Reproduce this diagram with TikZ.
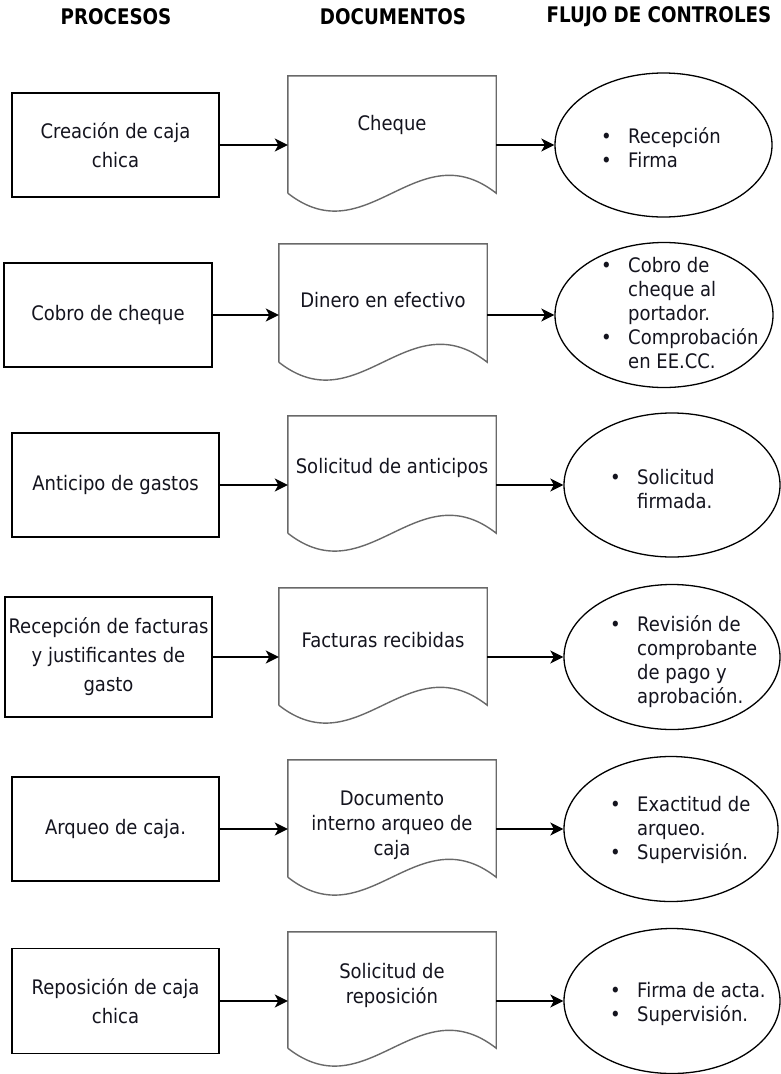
\documentclass[tikz,border=0pt]{standalone}
\usepackage{fontspec}
\usetikzlibrary{arrows.meta,shapes.geometric,calc}
\newfontfamily\bodyfont{DejaVu Sans}[FakeStretch=0.9]
\newfontfamily\headfont{DejaVu Sans}[FakeStretch=0.85]
\newcommand{\blt}{\makebox[27bp][l]{\textbullet}}
\newcommand{\hng}{\hspace*{27bp}}
\definecolor{docgray}{RGB}{105,105,105}
\definecolor{ink}{RGB}{20,20,30}

\tikzset{
  procbox/.style={draw=black, line width=1.6bp, minimum width=207bp, minimum height=104bp,
    inner sep=2bp, align=center, text=ink, font=\bodyfont\fontsize{20bp}{29bp}\selectfont},
  docarea/.style={inner sep=0pt, minimum width=208bp, minimum height=117bp},
  docline/.style={draw=docgray, line width=1.4bp},
  doctext/.style={align=center, inner sep=0pt, text=ink, font=\bodyfont\fontsize{20bp}{25bp}\selectfont},
  ctrl/.style={ellipse, draw=black, line width=1.3bp, inner sep=0pt, minimum width=216bp, minimum height=144bp},
  ctrltext/.style={align=left, anchor=west, inner sep=0pt, text=ink, font=\bodyfont\fontsize{20bp}{24bp}\selectfont},
  head/.style={inner sep=0pt, text=black, font=\headfont\bfseries\fontsize{21.5bp}{22bp}\selectfont},
  flow/.style={draw=black, line width=1.7bp, -{Stealth[length=13bp,width=13bp,inset=3.5bp]}}
}

% document symbol: straight top and sides, wavy bottom edge
\newcommand{\docshape}[1]{%
  \draw[docline] (#1.south west) -- (#1.north west) -- (#1.north east) -- (#1.south east)
    .. controls ($(#1.south west)!0.62!(#1.south east)+(0,-62)$)
       and ($(#1.south west)!0.38!(#1.south east)+(0,62)$) .. (#1.south west);}

\begin{document}
\begin{tikzpicture}[x=1bp, y=-1bp]
\fill[white] (0,0) rectangle (781,1074);
\useasboundingbox (0,0) rectangle (781,1074);

% column headings
\node[head] (h1) at (116,17) {PROCESOS};
\node[head] (h2) at (393,17) {DOCUMENTOS};
\node[head] (h3) at (659,17) {FLUJO DE CONTROLES};

% row 1
\node[procbox] (p1) at (115.5,145) {Creación de caja\\chica};
\node[docarea] (d1) at (392,134.5) {};
\docshape{d1}
\node[doctext] (dt1) at (392,125) {Cheque};
\node[ctrl, minimum width=217bp] (c1) at (663.5,145) {};
\node[ctrltext] (ct1) at (601,147.5) {\blt Recepción\\\blt Firma};
\draw[flow] (p1.east) -- (p1.east -| d1.west);
\draw[flow] (p1.east -| d1.east) -- (c1.west);

% row 2
\node[procbox, minimum width=208bp] (p2) at (108,315) {Cobro de cheque};
\node[docarea, minimum height=118bp] (d2) at (383,303) {};
\docshape{d2}
\node[doctext] (dt2) at (383,300) {Dinero en efectivo};
\node[ctrl, minimum width=218bp, minimum height=145bp] (c2) at (664,315) {};
\node[ctrltext] (ct2) at (601,313) {\blt Cobro de\\\hng cheque al\\\hng portador.\\\blt Comprobación\\\hng en EE.CC.};
\draw[flow] (p2.east) -- (p2.east -| d2.west);
\draw[flow] (p2.east -| d2.east) -- (c2.west);

% row 3
\node[procbox] (p3) at (115.5,485) {Anticipo de gastos};
\node[docarea] (d3) at (392,474.5) {};
\docshape{d3}
\node[doctext] (dt3) at (392,468) {Solicitud de anticipos};
\node[ctrl] (c3) at (672,485) {};
\node[ctrltext] (ct3) at (610,489.5) {\blt Solicitud\\\hng firmada.};
\draw[flow] (p3.east) -- (p3.east -| d3.west);
\draw[flow] (p3.east -| d3.east) -- (c3.west);

% row 4
\node[procbox, minimum height=120bp] (p4) at (108.5,657) {Recepción de facturas\\y justificantes de\\gasto};
\node[docarea] (d4) at (383,646.5) {};
\docshape{d4}
\node[doctext] (dt4) at (383,640) {Facturas recibidas};
\node[ctrl, minimum height=145bp] (c4) at (672,657) {};
\node[ctrltext] (ct4) at (610,662) {\blt Revisión de\\\hng comprobante\\\hng de pago y\\\hng aprobación.};
\draw[flow] (p4.east) -- (p4.east -| d4.west);
\draw[flow] (p4.east -| d4.east) -- (c4.west);

% row 5
\node[procbox] (p5) at (115.5,829) {Arqueo de caja.};
\node[docarea] (d5) at (392,818.5) {};
\docshape{d5}
\node[doctext] (dt5) at (392,825) {Documento\\interno arqueo de\\caja};
\node[ctrl, minimum width=214bp, minimum height=145bp] (c5) at (671,829) {};
\node[ctrltext] (ct5) at (610,830) {\blt Exactitud de\\\hng arqueo.\\\blt Supervisión.};
\draw[flow] (p5.east) -- (p5.east -| d5.west);
\draw[flow] (p5.east -| d5.east) -- (c5.west);

% row 6
\node[procbox, minimum height=105bp] (p6) at (115.5,1001) {Reposición de caja\\chica};
\node[docarea, minimum height=116bp] (d6) at (392,990) {};
\docshape{d6}
\node[doctext] (dt6) at (392,985) {Solicitud de\\reposición};
\node[ctrl, minimum height=145bp] (c6) at (672,1001) {};
\node[ctrltext] (ct6) at (610,1004) {\blt Firma de acta.\\\blt Supervisión.};
\draw[flow] (p6.east) -- (p6.east -| d6.west);
\draw[flow] (p6.east -| d6.east) -- (c6.west);
\end{tikzpicture}
\end{document}
